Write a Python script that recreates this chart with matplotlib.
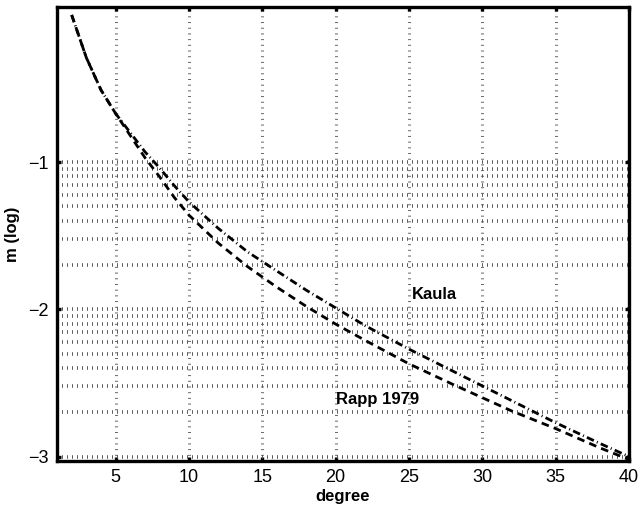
import numpy as np
import matplotlib
matplotlib.use('Agg')
import matplotlib.pyplot as plt
from matplotlib.ticker import FixedLocator, FixedFormatter, NullFormatter

plt.rcParams['font.family'] = ['Liberation Sans', 'DejaVu Sans']
plt.rcParams['lines.scale_dashes'] = False

# degree values and log10 of the two curves
degree = [2, 3, 4, 5, 6, 7, 8, 9, 10, 12, 14, 16, 18, 20, 22, 25, 28, 30, 32, 35, 38, 40]
kaula_log = [0.00, -0.29, -0.51, -0.67, -0.80, -0.93, -1.04, -1.16, -1.27, -1.45,
             -1.61, -1.74, -1.87, -1.99, -2.11, -2.27, -2.42, -2.52, -2.62, -2.77,
             -2.91, -3.00]
rapp_log = [0.00, -0.29, -0.51, -0.67, -0.82, -0.97, -1.10, -1.24, -1.36, -1.55,
            -1.71, -1.85, -1.98, -2.10, -2.21, -2.37, -2.51, -2.60, -2.69, -2.81,
            -2.94, -3.02]

ytick_vals = [1e-3, 1e-2, 1e-1]
ytick_labels = ['\u22123', '\u22122', '\u22121']
xtick_vals = [5, 10, 15, 20, 25, 30, 35, 40]

fig = plt.figure(figsize=(6.42, 5.08), dpi=100)
ax = fig.add_axes([57/642, 1-461/508, (629-57)/642, (461-7)/508])

l = np.array(degree)
ax.plot(l, 10**np.array(kaula_log), color='k', lw=2.0,
        dashes=(5.5, 2.4, 0.7, 2.4))
ax.plot(l, 10**np.array(rapp_log), color='k', lw=2.0, dashes=(5.5, 3.8))

ax.set_yscale('log')
ax.set_xlim(1, 40)
ax.set_ylim(10**-3.03, 10**0.054)

ax.xaxis.set_major_locator(FixedLocator(xtick_vals))
ax.yaxis.set_major_locator(FixedLocator(ytick_vals))
ax.yaxis.set_major_formatter(FixedFormatter(ytick_labels))
minors = [k * 10.0**e for e in (-3, -2) for k in range(2, 10)]
ax.yaxis.set_minor_locator(FixedLocator(minors))
ax.yaxis.set_minor_formatter(NullFormatter())

ax.tick_params(which='major', direction='in', length=3, width=2.4,
               top=True, right=True, labelsize=13, pad=6)
ax.tick_params(which='minor', direction='in', length=0, top=True, right=True)

# MATLAB-like dotted grid: short marks across the line direction
grid_style = dict(color='0.35', linewidth=2.6, linestyle=(0, (0.7, 2.9)))
ax.xaxis.grid(True, which='major', color='0.4', linewidth=2.2,
              linestyle=(0, (0.7, 3.4)))
ax.yaxis.grid(True, which='both', **grid_style)

for s in ax.spines.values():
    s.set_linewidth(2.4)

ax.set_xlabel('degree', fontsize=12, fontweight='bold', labelpad=2)
ax.set_ylabel('m (log)', fontsize=12, fontweight='bold', labelpad=6)

ax.text(25.2, 10**-1.90, 'Kaula', fontsize=12, fontweight='bold', va='center', ha='left')
ax.text(20.0, 10**-2.61, 'Rapp 1979', fontsize=12, fontweight='bold', va='center', ha='left')

fig.savefig('out.png', dpi=100)
